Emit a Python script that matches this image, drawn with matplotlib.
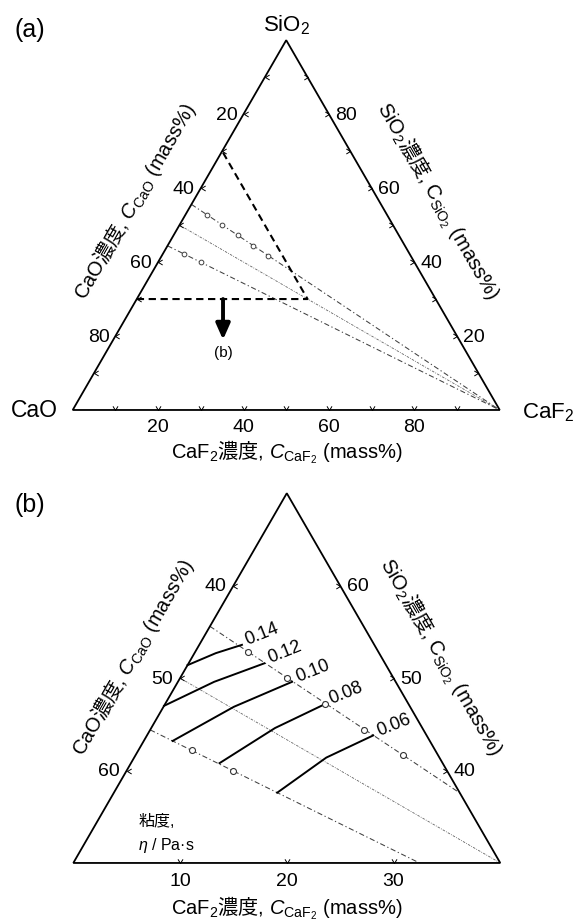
import numpy as np
import matplotlib.pyplot as plt
from matplotlib.path import Path
from matplotlib.patches import Polygon

plt.rcParams['font.family'] = ['Liberation Sans', 'Noto Sans CJK JP']
plt.rcParams['mathtext.fontset'] = 'custom'
plt.rcParams['mathtext.rm'] = 'Liberation Sans'
plt.rcParams['mathtext.it'] = 'Liberation Sans:italic'
plt.rcParams['mathtext.sf'] = 'Noto Sans CJK JP'

# ticks of the full diagram (mass%)
ticks_a = [10, 20, 30, 40, 50, 60, 70, 80, 90]
labels_a = [20, 40, 60, 80]
# ticks of the enlarged region (CaO >= 30, SiO2 >= 30)
ticks_b_caf2 = [10, 20, 30]
ticks_b_cao = [40, 50, 60]
ticks_b_sio2 = [40, 50, 60]

# CaO/SiO2 = 0.8, 1.0, 1.25 lines, end point on the CaO-SiO2 side
join_cao = [44.4, 50.0, 55.6]
join_sio2 = [55.6, 50.0, 44.4]

# measured slags
meas1_cao = [42.2, 40.0, 37.8, 35.6, 33.3]
meas1_sio2 = [52.8, 50.0, 47.2, 44.4, 41.7]
meas1_caf2 = [5, 10, 15, 20, 25]
meas2_cao = [52.8, 50.0]
meas2_sio2 = [42.2, 40.0]
meas2_caf2 = [5, 10]

# iso-viscosity lines, eta / Pa s
eta_labels = ['0.14', '0.12', '0.10', '0.08', '0.06']
eta_caf2 = [[0.0, 2.0, 4.0],
            [0.0, 3.4, 7.1],
            [2.7, 6.6, 10.7],
            [8.3, 11.6, 15.0],
            [15.3, 18.0, 21.2]]
eta_sio2 = [[51.4, 52.7, 53.6],
            [47.0, 49.6, 51.6],
            [43.2, 46.9, 49.6],
            [40.8, 44.6, 47.2],
            [37.6, 41.4, 43.8]]

SQ3 = np.sqrt(3) / 2


def tern(cao, sio2, caf2):
    cao = np.asarray(cao, float)
    sio2 = np.asarray(sio2, float)
    caf2 = np.asarray(caf2, float)
    tot = cao + sio2 + caf2
    return (caf2 + sio2 / 2) / tot, sio2 * SQ3 / tot


def chevron(verts):
    return Path(verts, [Path.MOVETO, Path.LINETO, Path.LINETO])


CHEV_UP = chevron([(-0.6, 1), (0, 0), (0.6, 1)])
CHEV_RIGHT = chevron([(1, 0.6), (0, 0), (1, -0.6)])
CHEV_LEFT = chevron([(-1, 0.6), (0, 0), (-1, -0.6)])

EDGE_LW = 1.3
TICK_FS = 14


def frame(ax, corners):
    x, y = tern(*np.array(corners).T)
    ax.add_patch(Polygon(np.c_[x, y], closed=True, fill=False, lw=EDGE_LW,
                         ec='k', joinstyle='miter', zorder=5))


def ticks(ax, comps, marker):
    x, y = tern(*np.array(comps, float).T)
    ax.plot(x, y, ls='none', marker=marker, ms=6, mfc='none', mec='k',
            mew=0.7, zorder=6)


def label(ax, comp, text, dx, dy, **kw):
    kw.setdefault('fontsize', TICK_FS)
    kw.setdefault('ha', 'center')
    kw.setdefault('va', 'center')
    ax.annotate(text, xy=tern(*comp), xytext=(dx, dy),
                textcoords='offset pixels', **kw)


title_bot = r'CaF$_2\mathsf{濃度}$, $C_\mathrm{CaF_2}$ (mass%)'
title_left = r'CaO$\mathsf{濃度}$, $C_\mathrm{CaO}$ (mass%)'
title_right = r'SiO$_2\mathsf{濃度}$, C$_\mathrm{SiO_2}$ (mass%)'
TITLE_FS = 14.5

fig = plt.figure(figsize=(5.77, 9.2), dpi=100)

# ---------------- (a) full CaO-SiO2-CaF2 diagram ----------------
ax = fig.add_axes([0, 0.5, 1, 0.5])
ax.set_xlim(-0.1703, 1.1810)
ax.set_ylim(-0.1148, 0.9625)
ax.axis('off')

frame(ax, [(100, 0, 0), (0, 100, 0), (0, 0, 100)])
ticks(ax, [(100 - t, 0, t) for t in ticks_a], CHEV_UP)
ticks(ax, [(t, 100 - t, 0) for t in ticks_a], CHEV_RIGHT)
ticks(ax, [(0, t, 100 - t) for t in ticks_a], CHEV_LEFT)
for t in labels_a:
    label(ax, (100 - t, 0, t), str(t), 0, -8, va='top')
    label(ax, (t, 100 - t, 0), str(t), -6, 0, ha='right')
    label(ax, (0, t, 100 - t), str(t), 6, 0, ha='left')

label(ax, (0, 100, 0), r'SiO$_2$', 0, 16, fontsize=16)
label(ax, (100, 0, 0), 'CaO', -15, 0, fontsize=16.5, ha='right')
label(ax, (0, 0, 100), r'CaF$_2$', 22, -2, fontsize=16, ha='left')

label(ax, (50, 0, 50), title_bot, 0, -41, fontsize=TITLE_FS)
label(ax, (50, 50, 0), title_left, -45, 25, fontsize=TITLE_FS, rotation=60)
label(ax, (0, 50, 50), title_right, 45, 25, fontsize=TITLE_FS, rotation=-60)

# enlarged region boundary
bx, by = tern([70, 30, 30], [30, 30, 70], [0, 40, 0])
ax.plot(bx, by, color='k', lw=1.5, ls=(0, (3.5, 2.2)), zorder=4)

# CaO/SiO2 lines towards the CaF2 corner
for i, (c, s) in enumerate(zip(join_cao, join_sio2)):
    lx, ly = tern([c, 0], [s, 0], [0, 100])
    if i == 1:
        ax.plot(lx, ly, color='0.4', lw=0.6, ls=(0, (3, 1.5, 1, 1.5)), zorder=3)
    else:
        ax.plot(lx, ly, color='0.25', lw=0.75, ls=(0, (5, 2.5, 1.2, 2.5)), zorder=3)

for c, s, f in [(meas1_cao, meas1_sio2, meas1_caf2),
                (meas2_cao, meas2_sio2, meas2_caf2)]:
    px, py = tern(c, s, f)
    ax.plot(px, py, ls='none', marker='o', ms=3.4, mfc='white', mec='0.25',
            mew=0.7, zorder=4)

# arrow pointing to panel (b)
ax.annotate('', xy=tern(55.3, 19.0, 25.7), xytext=tern(49.8, 30, 20.2),
            arrowprops=dict(arrowstyle='-|>,head_length=0.95,head_width=0.42',
                            mutation_scale=10, lw=2.8, color='k',
                            shrinkA=0, shrinkB=0))
label(ax, (55.3, 19.0, 25.7), '(b)', 0, -5, fontsize=11, va='top')

# ---------------- (b) enlarged region ----------------
ax = fig.add_axes([0, 0, 1, 0.5])
ax.set_xlim(0.0813, 0.6219)
ax.set_ylim(0.2073, 0.6383)
ax.axis('off')

corners_b = [(70, 30, 0), (30, 30, 40), (30, 70, 0)]
frame(ax, corners_b)
cx, cy = tern(*np.array(corners_b, float).T)
clip = Polygon(np.c_[cx, cy], closed=True, transform=ax.transData)

ticks(ax, [(70 - t, 30, t) for t in ticks_b_caf2], CHEV_UP)
ticks(ax, [(t, 100 - t, 0) for t in ticks_b_cao], CHEV_RIGHT)
ticks(ax, [(30, t, 70 - t) for t in ticks_b_sio2], CHEV_LEFT)
for t in ticks_b_caf2:
    label(ax, (70 - t, 30, t), str(t), 0, -9, va='top')
for t in ticks_b_cao:
    label(ax, (t, 100 - t, 0), str(t), -7, 0, ha='right')
for t in ticks_b_sio2:
    label(ax, (30, t, 70 - t), str(t), 7, 0, ha='left')

label(ax, (50, 30, 20), title_bot, 0, -44, fontsize=TITLE_FS)
label(ax, (50, 50, 0), title_left, -48, 22, fontsize=TITLE_FS, rotation=60)
label(ax, (30, 50, 20), title_right, 47, 22, fontsize=TITLE_FS, rotation=-60)

for i, (c, s) in enumerate(zip(join_cao, join_sio2)):
    lx, ly = tern([c, 0], [s, 0], [0, 100])
    if i == 1:
        ln, = ax.plot(lx, ly, color='0.4', lw=0.6, ls=(0, (3, 1.5, 1, 1.5)), zorder=3)
    else:
        ln, = ax.plot(lx, ly, color='0.25', lw=0.75, ls=(0, (5, 2.5, 1.2, 2.5)), zorder=3)
    ln.set_clip_path(clip)

for lab, f, s in zip(eta_labels, eta_caf2, eta_sio2):
    f = np.array(f)
    s = np.array(s)
    ex, ey = tern(100 - f - s, s, f)
    ax.plot(ex, ey, color='k', lw=1.4, zorder=4)
    label(ax, (100 - f[-1] - s[-1], s[-1], f[-1]), lab, 4, 5,
          fontsize=13, ha='left', rotation=22, rotation_mode='anchor')

for c, s, f in [(meas1_cao, meas1_sio2, meas1_caf2),
                (meas2_cao, meas2_sio2, meas2_caf2)]:
    px, py = tern(c, s, f)
    ax.plot(px, py, ls='none', marker='o', ms=4.3, mfc='white', mec='0.2',
            mew=0.8, zorder=5)

ax.text(0.2106, 0.3094, '$\\mathsf{粘度}$,\n$\\eta$ / Pa·s', fontsize=11.5,
        ha='left', va='top', linespacing=1.45)

fig.text(14 / 577, 1 - 30 / 920, '(a)', fontsize=18, va='center')
fig.text(14 / 577, 1 - 505 / 920, '(b)', fontsize=18, va='center')

fig.savefig('out.png', dpi=100)
